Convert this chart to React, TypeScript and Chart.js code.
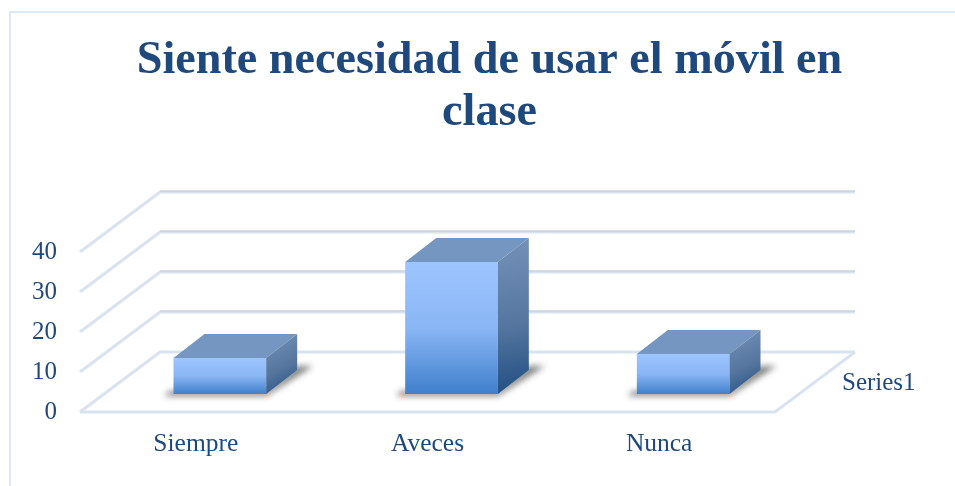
import React, { useEffect, useRef } from "react";
import { Chart, registerables } from "chart.js";

Chart.register(...registerables);

const categories = ["Siempre", "Aveces", "Nunca"];
const seriesName = "Series1";
const values = [9, 33, 10];
const titleLines = ["Siente necesidad de usar el móvil en", "clase"];
const yMax = 40;
const yStep = 10;

const TEXT = "#1f497d";
const SERIF = "'Liberation Serif', serif";
const WALL = { dx: 80, dy: -60 };
const BAR_SHIFT = { dx: 24, dy: -18 };
const BAR_DEPTH = { dx: 31, dy: -24 };

function gridStroke(ctx: CanvasRenderingContext2D, pts: number[][], dark: boolean) {
  ctx.lineJoin = "miter";
  ctx.beginPath();
  pts.forEach((p, i) => (i ? ctx.lineTo(p[0], p[1]) : ctx.moveTo(p[0], p[1])));
  ctx.lineWidth = 3;
  ctx.strokeStyle = "#d9e3f0";
  ctx.stroke();
  if (dark) {
    const last = pts[pts.length - 1];
    const prev = pts[pts.length - 2];
    ctx.beginPath();
    ctx.moveTo(prev[0], prev[1] - 1);
    ctx.lineTo(last[0], last[1] - 1);
    ctx.lineWidth = 1;
    ctx.strokeStyle = "#bfcadb";
    ctx.stroke();
  }
}

const frame3d = {
  id: "frame3d",
  beforeDatasetsDraw(chart: any) {
    const { ctx } = chart;
    const x = chart.scales.x;
    const y = chart.scales.y;
    const left = x.left;
    const right = x.right;
    ctx.save();
    // outer chart border
    ctx.strokeStyle = "#dde7f5";
    ctx.lineWidth = 2;
    ctx.beginPath();
    ctx.moveTo(10, 486);
    ctx.lineTo(10, 12);
    ctx.lineTo(955, 12);
    ctx.stroke();

    y.ticks.forEach((t: any) => {
      const py = y.getPixelForValue(t.value);
      gridStroke(
        ctx,
        [
          [left, py],
          [left + WALL.dx, py + WALL.dy],
          [right + WALL.dx, py + WALL.dy],
        ],
        t.value > 0
      );
    });
    const floor = y.getPixelForValue(0);
    gridStroke(
      ctx,
      [
        [left, floor],
        [right, floor],
        [right + WALL.dx, floor + WALL.dy],
      ],
      false
    );
    ctx.fillStyle = TEXT;
    ctx.font = `25px ${SERIF}`;
    ctx.textAlign = "left";
    ctx.textBaseline = "middle";
    ctx.fillText(seriesName, right + 67, floor - 29);
    ctx.restore();
  },
  beforeDatasetDraw(chart: any, args: any) {
    const { ctx } = chart;
    ctx.save();
    ctx.translate(BAR_SHIFT.dx, BAR_SHIFT.dy);
    const meta = chart.getDatasetMeta(args.index);
    meta.data.forEach((el: any) => {
      const l = el.x - el.width / 2;
      const r = el.x + el.width / 2;
      const b = el.base;
      ctx.save();
      ctx.filter = "blur(3px)";
      ctx.fillStyle = "rgba(40,40,40,0.6)";
      ctx.beginPath();
      ctx.moveTo(l - 9, b + 2);
      ctx.lineTo(r, b + 2);
      ctx.lineTo(r + BAR_DEPTH.dx + 16, b + BAR_DEPTH.dy - 4);
      ctx.lineTo(r + BAR_DEPTH.dx, b + BAR_DEPTH.dy - 4);
      ctx.lineTo(r, b - 3);
      ctx.lineTo(l - 4, b - 3);
      ctx.closePath();
      ctx.fill();
      ctx.restore();
    });
  },
  afterDatasetDraw(chart: any, args: any) {
    const { ctx } = chart;
    const meta = chart.getDatasetMeta(args.index);
    meta.data.forEach((el: any) => {
      const l = el.x - el.width / 2;
      const r = el.x + el.width / 2;
      const t = el.y;
      const b = el.base;
      const dx = BAR_DEPTH.dx;
      const dy = BAR_DEPTH.dy;
      // top face
      ctx.fillStyle = "#7596c1";
      ctx.beginPath();
      ctx.moveTo(l, t);
      ctx.lineTo(l + dx, t + dy);
      ctx.lineTo(r + dx, t + dy);
      ctx.lineTo(r, t);
      ctx.closePath();
      ctx.fill();
      // side face
      const g = ctx.createLinearGradient(r, t + dy, r + dx, b);
      g.addColorStop(0, "#7592b9");
      g.addColorStop(0.55, "#56769f");
      g.addColorStop(1, "#1f4e82");
      ctx.fillStyle = g;
      ctx.beginPath();
      ctx.moveTo(r, t);
      ctx.lineTo(r + dx, t + dy);
      ctx.lineTo(r + dx, b + dy);
      ctx.lineTo(r, b);
      ctx.closePath();
      ctx.fill();
    });
    ctx.restore();
  },
};

export default function App() {
  const ref = useRef<HTMLCanvasElement>(null);
  useEffect(() => {
    document.body.style.margin = "0";
    const chart = new Chart(ref.current as HTMLCanvasElement, {
      type: "bar",
      data: {
        labels: categories,
        datasets: [
          {
            label: seriesName,
            data: values,
            clip: false,
            barPercentage: 0.4,
            categoryPercentage: 1,
            backgroundColor: (c: any) => {
              const ch = c.chart;
              const v = c.dataset.data[c.dataIndex];
              const yScale = ch.scales.y;
              const top = yScale ? yScale.getPixelForValue(v) : NaN;
              const bot = yScale ? yScale.getPixelForValue(0) : NaN;
              if (!Number.isFinite(top) || !Number.isFinite(bot)) return "#7fb0ee";
              const g = ch.ctx.createLinearGradient(0, top, 0, bot);
              g.addColorStop(0, "#9dc5ff");
              g.addColorStop(0.5, "#8ab6f5");
              g.addColorStop(1, "#3f7fcc");
              return g;
            },
          },
        ],
      } as any,
      options: {
        responsive: false,
        animation: false,
        layout: { padding: { left: 24, right: 0, top: 0, bottom: 0 } },
        plugins: {
          legend: { display: false },
          tooltip: { enabled: false },
          title: {
            display: true,
            text: titleLines,
            color: TEXT,
            font: { family: SERIF, size: 46.2, weight: "bold", lineHeight: 1.126 },
            padding: { top: 35, bottom: 113 },
          },
        },
        scales: {
          x: {
            grid: { display: false },
            border: { display: false },
            ticks: { color: TEXT, font: { family: SERIF, size: 25.5 }, padding: 8.5, maxRotation: 0 },
            afterFit: (s: any) => {
              s.height = 74;
            },
          },
          y: {
            min: 0,
            max: yMax,
            grid: { display: false },
            border: { display: false },
            ticks: { stepSize: yStep, color: TEXT, font: { family: SERIF, size: 25 }, padding: 15, },
            afterFit: (s: any) => {
              s.width = 56;
            },
          },
          depth: {
            type: "linear",
            position: "right",
            display: true,
            grid: { display: false },
            border: { display: false },
            ticks: { display: false },
            afterFit: (s: any) => {
              s.width = 180;
            },
          },
        },
      } as any,
      plugins: [frame3d],
    });
    return () => chart.destroy();
  }, []);
  return <canvas ref={ref} width={955} height={486} style={{ display: "block" }} />;
}
